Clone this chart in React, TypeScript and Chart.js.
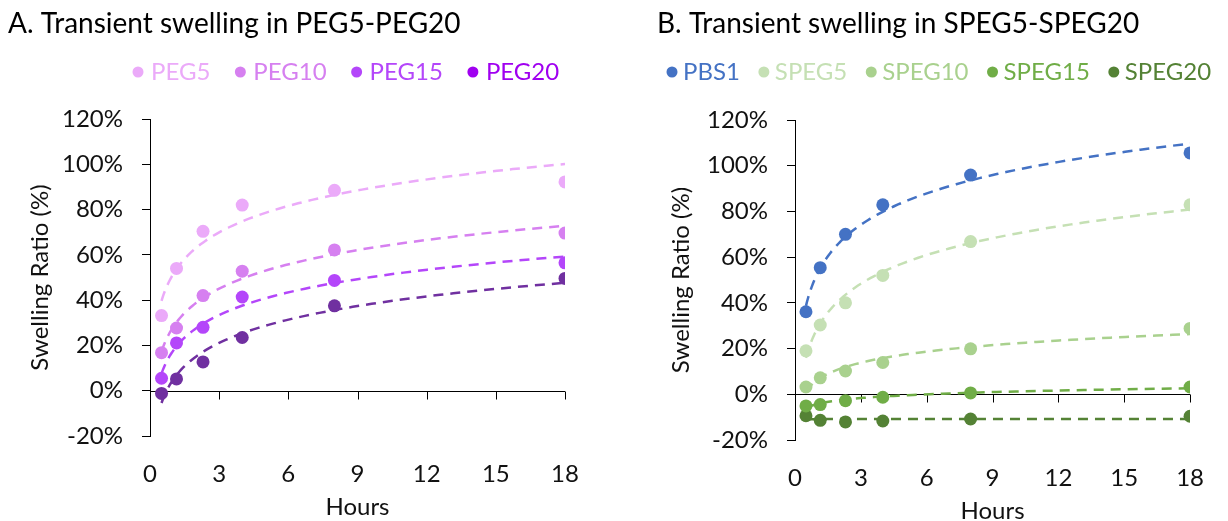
import React, { useEffect, useRef } from 'react';
import { Chart, registerables } from 'chart.js';

Chart.register(...registerables);

// ---------- data ----------
const hours = [0.5, 1.15, 2.3, 4, 8, 18];
const xTicks = [0, 3, 6, 9, 12, 15, 18];
const yTicks = [-20, 0, 20, 40, 60, 80, 100, 120];

const pegLabels = ['PEG5', 'PEG10', 'PEG15', 'PEG20'];
const peg5 = [33.2, 54, 70.4, 82, 88.5, 92.2];
const peg10 = [16.8, 27.7, 42, 52.8, 62.2, 69.6];
const peg15 = [5.5, 21.1, 28, 41.4, 48.7, 56.5];
const peg20 = [-1.2, 5.2, 12.7, 23.5, 37.5, 49.6];

const spegLabels = ['PBS1', 'SPEG5', 'SPEG10', 'SPEG15', 'SPEG20'];
const pbs1 = [36.1, 55.4, 70, 82.9, 95.9, 105.6];
const speg5 = [19, 30.3, 40, 52, 66.8, 82.9];
const speg10 = [3.2, 7.2, 10.2, 13.9, 19.9, 28.8];
const speg15 = [-5.1, -4.5, -2.8, -1.3, 0.6, 3.2];
const speg20 = [-9.4, -11.4, -12.1, -11.7, -10.8, -9.6];

// ---------- styles ----------
const FONT = 'Lato';
const pegPointColors = ['#EBAAF9', '#D680F0', '#B446FA', '#7030A0'];
const pegLegendColors = ['#EBAAF9', '#D680F0', '#B446FA', '#A000F0'];
const pegLineColors = ['#EBAAF9', '#D680F0', '#B446FA', '#7030A0'];
const spegColors = ['#4472C4', '#C5E0B4', '#A9D18E', '#70AD47', '#548235'];

// logarithmic least-squares trendline (as in the spreadsheet's "log" trendline)
function logTrend(xs: number[], ys: number[], n = 80) {
  const lx = xs.map((x) => Math.log(x));
  const mx = lx.reduce((s, v) => s + v, 0) / lx.length;
  const my = ys.reduce((s, v) => s + v, 0) / ys.length;
  let sxx = 0;
  let sxy = 0;
  lx.forEach((v, i) => {
    sxx += (v - mx) * (v - mx);
    sxy += (v - mx) * (ys[i] - my);
  });
  const a = sxy / sxx;
  const b = my - a * mx;
  const x0 = Math.min(...xs);
  const x1 = Math.max(...xs);
  const pts: { x: number; y: number }[] = [];
  for (let i = 0; i <= n; i++) {
    const x = x0 * Math.pow(x1 / x0, i / n);
    pts.push({ x, y: a * Math.log(x) + b });
  }
  return pts;
}

type Panel = {
  title: string;
  titleX: number;
  legendX: number;
  markerGap: number;
  itemGap: number;
  labels: string[];
  series: number[][];
  pointColors: string[];
  legendColors: string[];
  lineColors: string[];
  area: { left: number; top: number; right: number; bottom: number };
  yTitleX: number;
  xLabelPad: number;
  xTitlePad: number;
};

const panelA: Panel = {
  title: 'A. Transient swelling in PEG5-PEG20',
  titleX: 8,
  legendX: 138,
  markerGap: 13,
  itemGap: 30,
  labels: pegLabels,
  series: [peg5, peg10, peg15, peg20],
  pointColors: pegPointColors,
  legendColors: pegLegendColors,
  lineColors: pegLineColors,
  area: { left: 150, top: 119, right: 565, bottom: 436 },
  yTitleX: 40,
  xLabelPad: 24,
  xTitlePad: -1,
};

const panelB: Panel = {
  title: 'B. Transient swelling in SPEG5-SPEG20',
  titleX: 43,
  legendX: 58,
  markerGap: 11,
  itemGap: 24,
  labels: spegLabels,
  series: [pbs1, speg5, speg10, speg15, speg20],
  pointColors: spegColors,
  legendColors: spegColors,
  lineColors: spegColors,
  area: { left: 181, top: 120, right: 580, bottom: 440 },
  yTitleX: 67,
  xLabelPad: 24,
  xTitlePad: -5,
};

const W = 614;
const H = 521;

function buildConfig(p: Panel): any {
  const font = { family: FONT, size: 24 };
  const datasets: any[] = [];
  p.series.forEach((ys, i) => {
    datasets.push({
      label: p.labels[i],
      data: hours.map((x, j) => ({ x, y: ys[j] })),
      backgroundColor: p.pointColors[i],
      borderWidth: 0,
      pointRadius: 6.5,
      pointHoverRadius: 6.5,
      showLine: false,
      order: 1,
    });
  });
  p.series.forEach((ys, i) => {
    datasets.push({
      label: p.labels[i] + ' trend',
      data: logTrend(hours, ys),
      borderColor: p.lineColors[i],
      borderWidth: 2.5,
      borderDash: [10, 7],
      pointRadius: 0,
      showLine: true,
      fill: false,
      tension: 0,
      order: 0,
    });
  });

  const decor = {
    id: 'decor',
    beforeDatasetsDraw(chart: any) {
      const ctx = chart.ctx;
      const xs = chart.scales.x;
      const ys = chart.scales.y;
      const y0 = Math.round(ys.getPixelForValue(0)) + 0.5;
      ctx.save();
      ctx.strokeStyle = '#000';
      ctx.lineWidth = 1;
      ctx.beginPath();
      ctx.moveTo(chart.chartArea.left, y0);
      ctx.lineTo(chart.chartArea.right, y0);
      xTicks.forEach((v) => {
        if (v === 0) return;
        const px = Math.round(xs.getPixelForValue(v)) + 0.5;
        ctx.moveTo(px, y0);
        ctx.lineTo(px, y0 + 8);
      });
      ctx.stroke();
      ctx.restore();
    },
    afterDraw(chart: any) {
      const ctx = chart.ctx;
      ctx.save();
      ctx.textBaseline = 'alphabetic';
      ctx.textAlign = 'left';
      ctx.fillStyle = '#000';
      ctx.font = `28px ${FONT}`;
      ctx.fillText(p.title, p.titleX, 33);
      ctx.font = `24px ${FONT}`;
      let x = p.legendX;
      p.labels.forEach((lab, i) => {
        ctx.fillStyle = p.legendColors[i];
        ctx.beginPath();
        ctx.arc(x, 72, 5.5, 0, Math.PI * 2);
        ctx.fill();
        ctx.fillText(lab, x + p.markerGap, 80);
        x += p.markerGap + ctx.measureText(lab).width + p.itemGap;
      });
      ctx.restore();
    },
  };

  return {
    type: 'scatter',
    data: { datasets },
    options: {
      responsive: false,
      animation: false,
      devicePixelRatio: 1,
      layout: {
        padding: { top: p.area.top, right: W - p.area.right, bottom: 0, left: 0 },
      },
      plugins: {
        legend: { display: false },
        title: { display: false },
        tooltip: { enabled: false },
      },
      scales: {
        x: {
          type: 'linear',
          min: 0,
          max: 18,
          afterBuildTicks: (s: any) => {
            s.ticks = xTicks.map((v) => ({ value: v }));
          },
          grid: { display: false, drawTicks: false },
          border: { display: false },
          ticks: { font, color: '#111', padding: p.xLabelPad, maxRotation: 0, autoSkip: false },
          title: {
            display: true,
            text: 'Hours',
            font,
            color: '#111',
            padding: { top: 0, bottom: p.xTitlePad },
          },
          afterFit: (s: any) => {
            s.height = H - p.area.bottom;
          },
        },
        y: {
          type: 'linear',
          min: -20,
          max: 120,
          afterBuildTicks: (s: any) => {
            s.ticks = yTicks.map((v) => ({ value: v }));
          },
          grid: {
            display: true,
            drawOnChartArea: false,
            drawTicks: true,
            tickLength: 8,
            color: '#000',
            lineWidth: 1,
          },
          border: { display: true, color: '#000', width: 1 },
          ticks: {
            font,
            color: '#111',
            padding: 19,
            autoSkip: false,
            callback: (v: any) => `${v}%`,
          },
          title: {
            display: true,
            text: 'Swelling Ratio (%)',
            font,
            color: '#111',
            padding: { top: p.yTitleX - 14.4, bottom: 0 },
          },
          afterFit: (s: any) => {
            s.width = p.area.left;
          },
        },
      },
    },
    plugins: [decor],
  };
}

function PanelChart({ panel, left }: { panel: Panel; left: number }) {
  const ref = useRef<HTMLCanvasElement | null>(null);
  useEffect(() => {
    if (!ref.current) return;
    const chart = new Chart(ref.current, buildConfig(panel));
    return () => chart.destroy();
  }, [panel]);
  return (
    <canvas
      ref={ref}
      width={W}
      height={H}
      style={{ position: 'absolute', left, top: 0, width: W, height: H }}
    />
  );
}

export default function App() {
  return (
    <div
      style={{
        position: 'absolute',
        left: 0,
        top: 0,
        width: 1228,
        height: 521,
        background: '#fff',
        overflow: 'hidden',
      }}
    >
      <PanelChart panel={panelA} left={0} />
      <PanelChart panel={panelB} left={614} />
    </div>
  );
}
